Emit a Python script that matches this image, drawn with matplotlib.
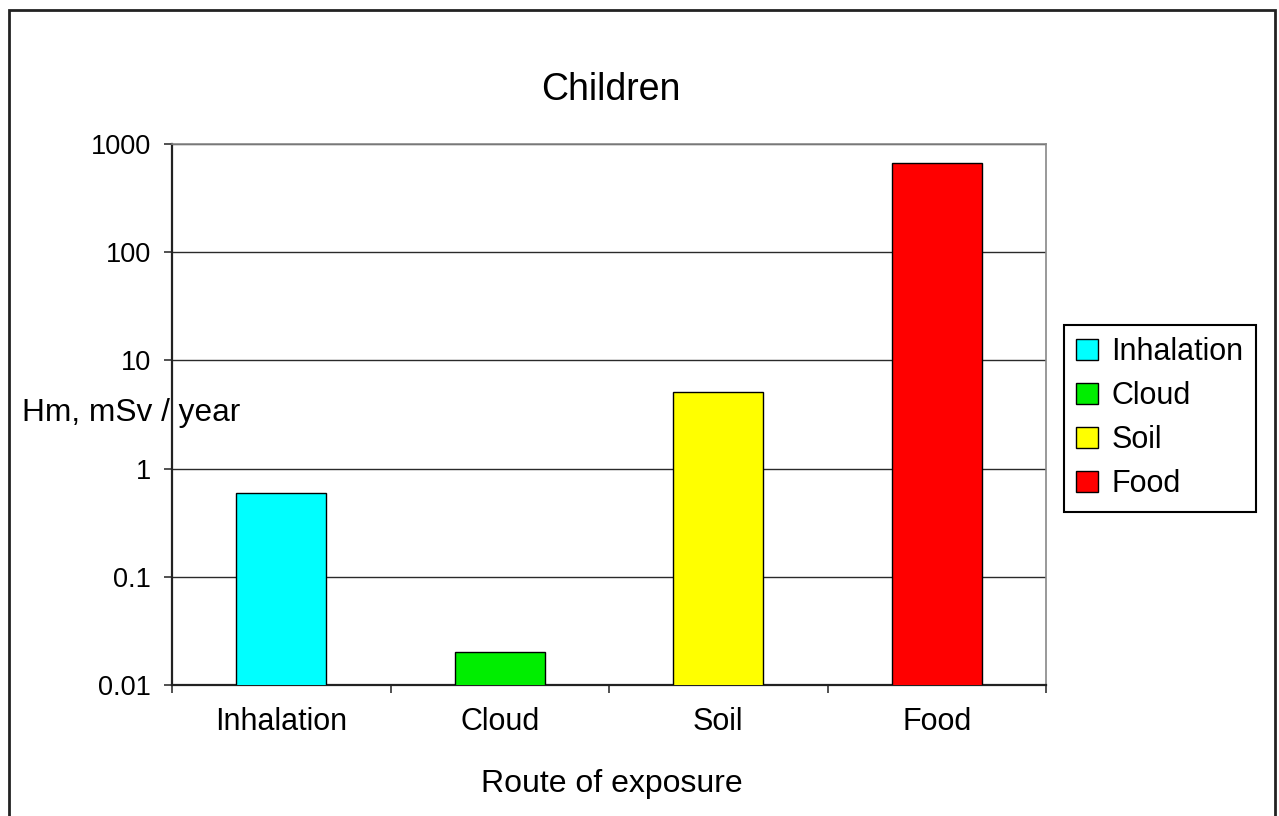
import matplotlib
matplotlib.use("Agg")
import matplotlib.pyplot as plt
from matplotlib.patches import Patch, Rectangle
from matplotlib.ticker import FixedLocator, NullLocator

categories = ["Inhalation", "Cloud", "Soil", "Food"]
values = [0.6, 0.02, 5.1, 670]
colors = ["#00FFFF", "#00EE00", "#FFFF00", "#FF0000"]
ytick_vals = [0.01, 0.1, 1, 10, 100, 1000]
ytick_labels = ["0.01", "0.1", "1", "10", "100", "1000"]

plt.rcParams["font.family"] = ["Liberation Sans", "DejaVu Sans"]

W, H = 1279, 816
fig = plt.figure(figsize=(W / 100, H / 100), dpi=100)
ax = fig.add_axes([172 / W, 1 - 685 / H, (1046 - 172) / W, (685 - 144) / H])

x = list(range(len(categories)))
ax.bar(x, values, width=0.41, color=colors, edgecolor="black", linewidth=1.0, zorder=3)

ax.set_yscale("log")
ax.set_ylim(0.01, 1000)
ax.set_xlim(-0.5, len(categories) - 0.5)
ax.yaxis.set_major_locator(FixedLocator(ytick_vals))
ax.set_yticklabels(ytick_labels)
ax.yaxis.set_minor_locator(NullLocator())
ax.grid(axis="y", which="major", color="#2a2a2a", linewidth=1.0, zorder=0)

ax.set_xticks(x)
ax.set_xticklabels(categories, fontsize=22)
ax.set_xticks([i - 0.5 for i in range(len(categories) + 1)], minor=True)
ax.tick_params(axis="x", which="major", length=0, pad=16)
ax.tick_params(axis="x", which="minor", length=6, direction="out", width=1.2, color="#333333")
ax.tick_params(axis="y", which="major", length=6, direction="out", width=1.2,
               labelsize=19.5, pad=9, colors="#333333", labelcolor="black")

for s in ["left", "bottom"]:
    ax.spines[s].set_color("#222222")
    ax.spines[s].set_linewidth(1.6)
for s in ["right", "top"]:
    ax.spines[s].set_color("#888888")
    ax.spines[s].set_linewidth(1.2)

fig.text(611 / W, 1 - 90 / H, "Children", fontsize=27, ha="center", va="center")
fig.text(612 / W, 1 - 784 / H, "Route of exposure", fontsize=23, ha="center", va="center")
fig.text(22 / W, 1 - 413 / H, "Hm, mSv / year", fontsize=22.8, ha="left", va="center", zorder=5)

handles = [Patch(facecolor=c, edgecolor="black", linewidth=1.0) for c in colors]
leg = fig.legend(handles, categories, loc="upper left",
                 bbox_to_anchor=(1064 / W, 1 - 325 / H), fontsize=22,
                 frameon=True, fancybox=False, edgecolor="black", framealpha=1,
                 handlelength=0.7, handleheight=0.7, handletextpad=0.45,
                 labelspacing=0.46, borderpad=0.4, borderaxespad=0)
leg.get_frame().set_linewidth(1.5)

fig.add_artist(Rectangle((9 / W, -0.01), (1275 - 9) / W, 1.01 - 10 / H,
                         transform=fig.transFigure, fill=False,
                         edgecolor="#222222", linewidth=2.0))

fig.savefig("out.png", dpi=100)
